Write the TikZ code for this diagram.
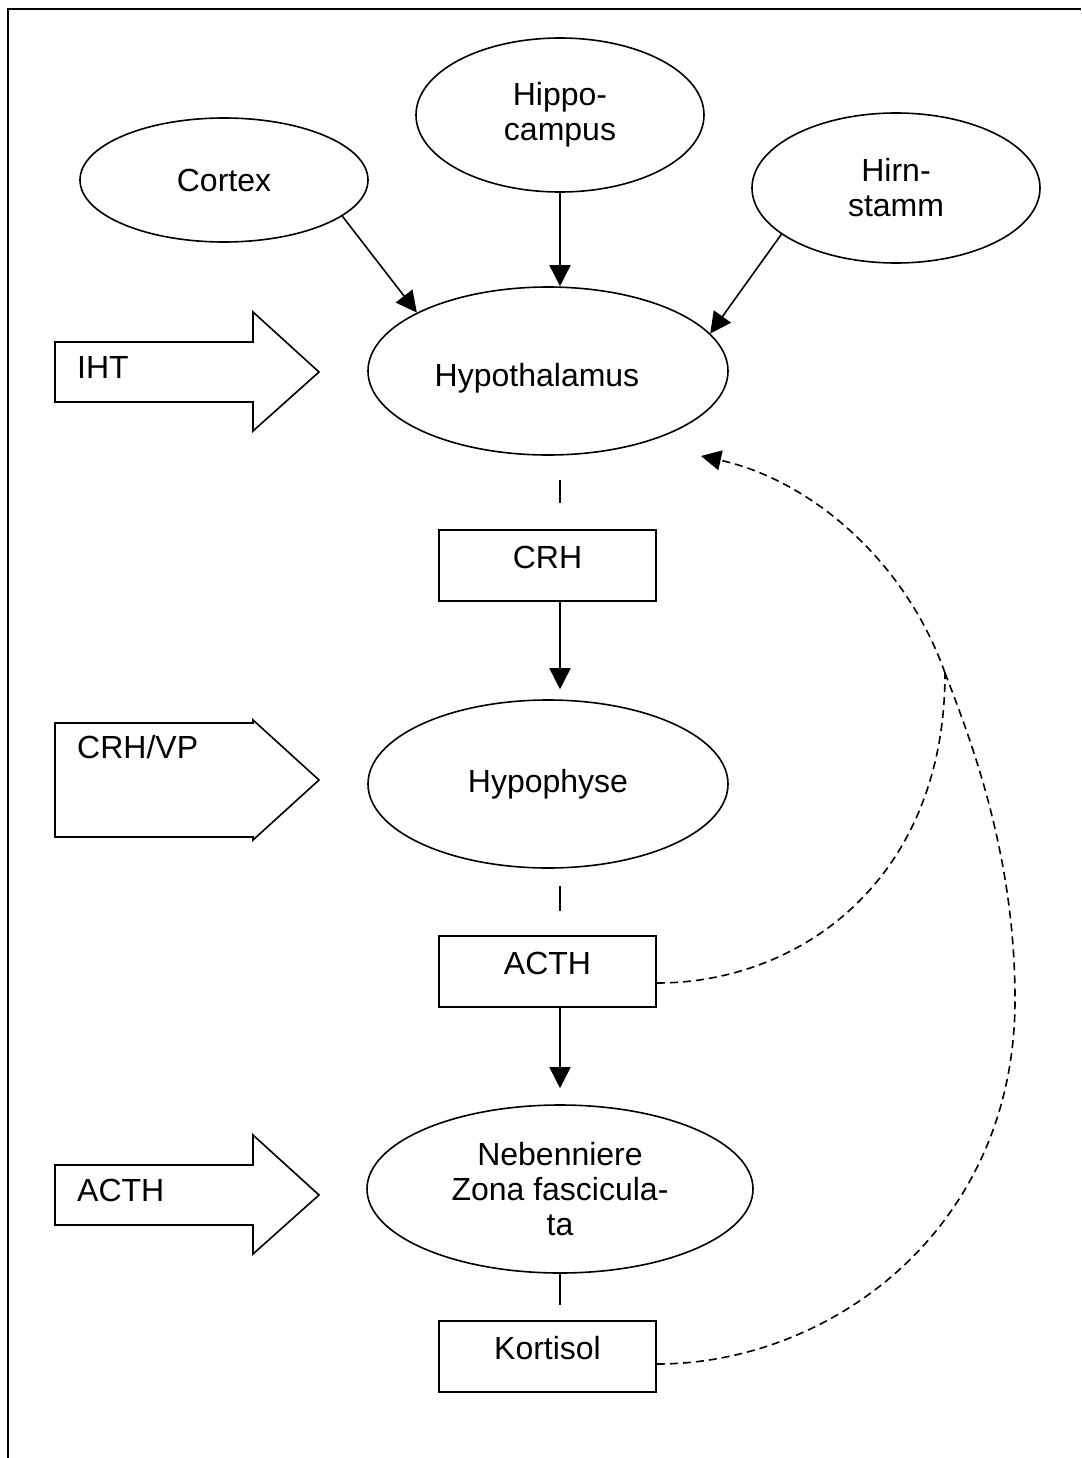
\documentclass[tikz,border=0pt]{standalone}
\usepackage{fontspec}
\setmainfont{Liberation Sans}
\usetikzlibrary{shapes.geometric,arrows.meta}
\tikzset{
  txt/.style={font=\fontsize{32}{35}\selectfont},
  ell/.style={draw, ellipse, line width=1.6pt, inner sep=0pt, align=center, txt},
  boxnode/.style={draw, rectangle, line width=2pt, minimum width=217pt, minimum height=71pt,
    inner sep=0pt, txt, text height=22pt, text depth=16pt},
  arr/.style={line width=1.6pt, -{Triangle[length=21pt,width=21pt]}},
  stub/.style={line width=1.6pt},
  dashline/.style={line width=1.6pt, dash pattern=on 8pt off 5pt},
  fbarrow/.style={dashline, -{Triangle[length=20pt,width=20pt]}},
  blockarrow/.style={draw, line width=1.6pt, line join=miter},
  lbl/.style={txt, anchor=base west, inner sep=0pt},
  framel/.style={line width=2.6pt}
}
\begin{document}
\begin{tikzpicture}[x=1pt,y=-1pt]
\useasboundingbox (0,0) rectangle (1081,1458);
% frame
\draw[framel] (8,1458) -- (8,9) -- (1081,9);
% axis coordinate for vertical connectors
\coordinate (axis) at (560,0);
% ellipses
\node[ell, minimum width=288pt, minimum height=124pt] (cortex) at (224,180) {Cortex};
\node[ell, minimum width=288pt, minimum height=154pt] (hippo) at (560,115) {Hippo-\\campus};
\node[ell, minimum width=288pt, minimum height=150pt] (hirn) at (896,188) {Hirn-\\stamm};
\node[ell, minimum width=360pt, minimum height=168pt,
      label={[txt, inner sep=0pt, xshift=-11pt, yshift=-7pt]center:Hypothalamus}] (hypo) at (548,371) {};
\node[ell, minimum width=360pt, minimum height=168pt] (hypoph) at (548,784) {Hypophyse};
\node[ell, minimum width=386pt, minimum height=168pt] (neben) at (560,1189) {Nebenniere\\Zona fascicula-\\ta};
% boxes
\node[boxnode] (crh) at (547.5,565) {CRH};
\node[boxnode] (acth) at (547.5,971) {ACTH};
\node[boxnode] (kort) at (547.5,1356) {Kortisol};
% block arrows
\draw[blockarrow] (55,342) -- (253,342) -- (253,312) -- (319,372) -- (253,431) -- (253,402) -- (55,402) -- cycle;
\node[lbl] (iht) at (77,378) {IHT};
\draw[blockarrow] (55,723) -- (253,723) -- (253,720) -- (319,780) -- (253,840) -- (253,837) -- (55,837) -- cycle;
\node[lbl] (crhvp) at (77,758) {CRH/VP};
\draw[blockarrow] (55,1165) -- (253,1165) -- (253,1135) -- (319,1195) -- (253,1254) -- (253,1225) -- (55,1225) -- cycle;
\node[lbl] (acthin) at (77,1201) {ACTH};
% input arrows to hypothalamus
\draw[arr] (cortex.-17) -- (hypo.156);
\draw[arr] (hippo.south -| axis) -- (hypo.north -| axis);
\draw[arr] (hirn.202) -- (hypo.13);
% main chain
\draw[stub, shorten <=24pt, shorten >=26pt] (hypo.south -| axis) -- (crh.north -| axis);
\draw[arr, shorten >=10pt] (crh.south -| axis) -- (hypoph.north -| axis);
\draw[stub, shorten <=17pt, shorten >=24pt] (hypoph.south -| axis) -- (acth.north -| axis);
\draw[arr, shorten >=16pt] (acth.south -| axis) -- (neben.north -| axis);
\draw[stub, shorten >=15pt] (neben.south -| axis) -- (kort.north -| axis);
% feedback
\coordinate (merge) at (945,673);
\coordinate (fbend) at (701,456);
\draw[dashline] ([yshift=-12pt]acth.east) .. controls (800,983) and (945,880) .. (merge);
\draw[dashline] ([yshift=-8pt]kort.east) .. controls (830,1364) and (1015,1230) .. (1015,1000)
   .. controls (1015,860) and (975,750) .. (merge);
\draw[fbarrow] (merge) .. controls (905,560) and (810,480) .. (fbend);
\end{tikzpicture}
\end{document}
